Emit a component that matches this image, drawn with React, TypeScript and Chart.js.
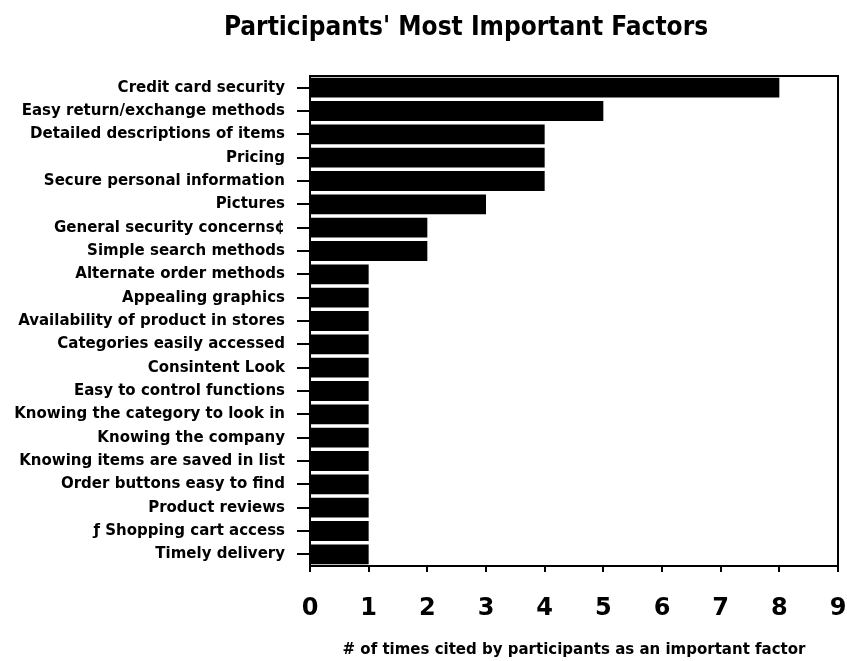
import React, { useEffect, useRef } from "react";
import { Chart, registerables } from "chart.js";

Chart.register(...registerables);

const categories = [
  "Credit card security",
  "Easy return/exchange methods",
  "Detailed descriptions of items",
  "Pricing",
  "Secure personal information",
  "Pictures",
  "General security concerns\u00a2",
  "Simple search methods",
  "Alternate order methods",
  "Appealing graphics",
  "Availability of product in stores",
  "Categories easily accessed",
  "Consintent Look",
  "Easy to control functions",
  "Knowing the category to look in",
  "Knowing the company",
  "Knowing items are saved in list",
  "Order buttons easy to find",
  "Product reviews",
  "\u0192 Shopping cart access",
  "Timely delivery",
];

const timesCited = [8, 5, 4, 4, 4, 3, 2, 2, 1, 1, 1, 1, 1, 1, 1, 1, 1, 1, 1, 1, 1];

const xTicks = [0, 1, 2, 3, 4, 5, 6, 7, 8, 9];

const chartTitle = "Participants' Most Important Factors";
const xAxisTitle = "# of times cited by participants as an important factor";

const FONT = "'DejaVu Sans', sans-serif";
const TITLE_FONT = "'DejaVu Sans Condensed', 'DejaVu Sans', sans-serif";

export default function App() {
  const ref = useRef<HTMLCanvasElement | null>(null);

  useEffect(() => {
    if (!ref.current) return;
    const framePlugin = {
      id: "frameAndTitle",
      afterDraw(chart: any) {
        const { ctx, chartArea } = chart;
        ctx.save();
        ctx.strokeStyle = "#000";
        ctx.lineWidth = 2;
        ctx.strokeRect(chartArea.left, chartArea.top, chartArea.right - chartArea.left, chartArea.bottom - chartArea.top);
        ctx.fillStyle = "#000";
        ctx.font = `bold 26px ${TITLE_FONT}`;
        ctx.textAlign = "center";
        ctx.textBaseline = "alphabetic";
        ctx.fillText(chartTitle, 466, 35);
        ctx.restore();
      },
    };
    const chart = new Chart(ref.current, {
      type: "bar",
      data: {
        labels: categories,
        datasets: [
          {
            data: timesCited,
            backgroundColor: "#000",
            borderWidth: 0,
            barPercentage: 0.85,
            categoryPercentage: 1,
          },
        ],
      },
      options: {
        indexAxis: "y",
        animation: false,
        responsive: true,
        maintainAspectRatio: false,
        layout: { padding: { top: 76, left: 8, right: 9, bottom: 0 } },
        plugins: {
          legend: { display: false },
          tooltip: { enabled: false },
          title: { display: false },
        },
        scales: {
          x: {
            min: 0,
            max: 9,
            afterBuildTicks: (scale: any) => {
              scale.ticks = xTicks.map((v) => ({ value: v }));
            },
            afterFit: (scale: any) => {
              scale.height = 95;
              scale.paddingLeft = 0;
              scale.paddingRight = 0;
            },
            ticks: {
              color: "#000",
              font: { family: FONT, size: 24, weight: "bold" },
              padding: 22,
            },
            grid: {
              drawOnChartArea: false,
              tickLength: 6,
              color: "#000",
              lineWidth: 2,
            },
            border: { color: "#000", width: 2 },
            title: {
              display: true,
              text: xAxisTitle,
              color: "#000",
              font: { family: FONT, size: 15, weight: "bold" },
              padding: { top: 8, bottom: 2 },
            },
          },
          y: {
            afterFit: (scale: any) => {
              scale.width = 302;
            },
            ticks: {
              color: "#000",
              font: { family: FONT, size: 15, weight: "bold" },
              padding: 12,
              autoSkip: false,
            },
            grid: {
              drawOnChartArea: false,
              offset: false,
              tickLength: 13,
              color: "#000",
              lineWidth: 2,
            },
            border: { color: "#000", width: 2 },
          },
        },
      },
      plugins: [framePlugin],
    });
    return () => chart.destroy();
  }, []);

  return (
    <div style={{ position: "fixed", left: 0, top: 0, width: 847, height: 661, background: "#fff" }}>
      <canvas ref={ref} />
    </div>
  );
}
